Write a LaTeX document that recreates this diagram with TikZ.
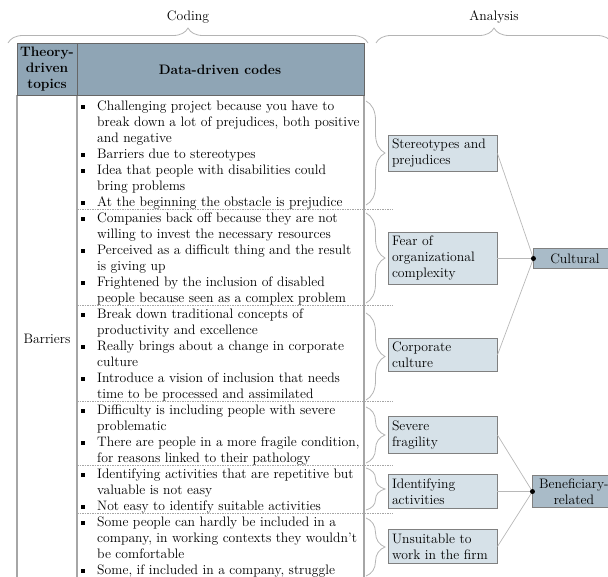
\documentclass[tikz,border=0pt]{standalone}
\usepackage{fontspec}
\usetikzlibrary{positioning}
\usetikzlibrary{decorations.pathreplacing}

\definecolor{headblue}{HTML}{8FA5B5}
\definecolor{catblue}{HTML}{A9BBC8}
\definecolor{codeblue}{HTML}{D6E1E8}
\definecolor{linegray}{HTML}{A6A6A6}
\definecolor{bracegray}{HTML}{B4B4B4}

\newcommand{\txtsize}{\fontsize{13.7pt}{16pt}\selectfont}
\newcommand{\bul}{\makebox[16pt][l]{\rule[1.5pt]{4pt}{4pt}}}
\newcommand{\cont}{\hspace*{16pt}}

\begin{document}
\begin{tikzpicture}[x=1pt, y=-1pt, font=\txtsize,
		codebox/.style={draw=black!50, fill=codeblue, line width=0.9pt, text width=101pt, minimum width=109pt, inner sep=4pt, align=left},
		catbox/.style={draw=black!50, fill=catblue, line width=0.9pt, minimum width=82pt, inner sep=3pt, align=center},
		codetext/.style={anchor=base west, inner sep=0pt, align=left},
		topbrace/.style={draw=bracegray, line width=0.8pt, decorate, decoration={brace, amplitude=15pt}},
		groupbrace/.style={draw=bracegray, line width=0.8pt, decorate, decoration={brace, amplitude=19pt}},
		groupline/.style={draw=linegray, dash pattern=on 1.5pt off 1pt, line width=0.6pt},
		boxlink/.style={draw=black!28, line width=0.7pt}]
			\useasboundingbox (0,0) rectangle (608,576);
			
			\node (coding) at (188,17) {Coding};
			\node (analysis) at (494,17) {Analysis};
			\draw[topbrace] (8,43) -- (368,43);
			\draw[topbrace] (376,43) -- (612,43);
			
			% table
			\draw[linegray, line width=1.2pt] (17,95) -- (17,580) (77,95) -- (77,580) (364,95) -- (364,580);
			\filldraw[fill=headblue, draw=black!60, line width=1pt] (17,43) rectangle (364,95);
			\draw[black!60, line width=1pt] (77,43) -- (77,95);
			\node[font=\txtsize\bfseries, align=center] (topics) at (47,69) {Theory-\\driven\\topics};
			\node[font=\txtsize\bfseries] (codes) at (220,70) {Data-driven codes};
			\node (barriers) at (47,339) {Barriers};
			
			\draw[groupline] (77,209) -- (393,209);
			\draw[groupline] (77,305) -- (393,305);
			\draw[groupline] (77,401) -- (393,401);
			\draw[groupline] (77,465) -- (393,465);
			\draw[groupline] (77,513) -- (393,513);
			
			% code groups, placed at the baseline of their last line
			\node[codetext] (g1) at (81,206) {\bul Challenging project because you have to\\
				\cont break down a lot of prejudices, both positive\\
				\cont and negative\\
				\bul Barriers due to stereotypes\\
				\bul Idea that people with disabilities could\\
				\cont bring problems\\
				\bul At the beginning the obstacle is prejudice};
			\node[codetext] (g2) at (81,302) {\bul Companies back off because they are not\\
				\cont willing to invest the necessary resources\\
				\bul Perceived as a difficult thing and the result\\
				\cont is giving up\\
				\bul Frightened by the inclusion of disabled\\
				\cont people because seen as a complex problem};
			\node[codetext] (g3) at (81,398) {\bul Break down traditional concepts of\\
				\cont productivity and excellence\\
				\bul Really brings about a change in corporate\\
				\cont culture\\
				\bul Introduce a vision of inclusion that needs\\
				\cont time to be processed and assimilated};
			\node[codetext] (g4) at (81,462) {\bul Difficulty is including people with severe\\
				\cont problematic\\
				\bul There are people in a more fragile condition,\\
				\cont for reasons linked to their pathology};
			\node[codetext] (g5) at (81,510) {\bul Identifying activities that are repetitive but\\
				\cont valuable is not easy\\
				\bul Not easy to identify suitable activities};
			\node[codetext] (g6) at (81,574) {\bul Some people can hardly be included in a\\
				\cont company, in working contexts they wouldn't\\
				\cont be comfortable\\
				\bul Some, if included in a company, struggle};
			
			% braces round the code groups
			\draw[groupbrace] (366,101) -- (366,205);
			\draw[groupbrace] (366,213) -- (366,303);
			\draw[groupbrace] (366,313) -- (366,400);
			\draw[groupbrace] (366,407) -- (366,463);
			\draw[groupbrace] (366,468) -- (366,510);
			\draw[groupbrace] (366,518) -- (366,576);
			
			\node[codebox] (stereo) at (442.5,153.5) {Stereotypes and\\prejudices};
			\node[codebox] (fear) at (442.5,258.5) {Fear of\\organizational\\complexity};
			\node[codebox] (corporate) at (442.5,355) {Corporate\\culture};
			\node[codebox] (fragile) at (442.5,435) {Severe\\fragility};
			\node[codebox] (activity) at (442.5,491.5) {Identifying\\activities};
			\node[codebox] (unsuit) at (442.5,546.5) {Unsuitable to\\work in the firm};
			
			\node[catbox, minimum height=20pt, right = 36pt of fear] (cultural) {Cultural};
			\node[catbox, right = 35pt of activity] (benef) {Beneficiary-\\related};
			
			\path[boxlink] (stereo.east) edge (cultural.west);
			\path[boxlink] (fear.east) edge (cultural.west);
			\path[boxlink] (corporate.east) edge (cultural.west);
			\path[boxlink] (fragile.east) edge (benef.west);
			\path[boxlink] (activity.east) edge (benef.west);
			\path[boxlink] (unsuit.east) edge (benef.west);
			\fill (cultural.west) circle (2.5pt);
			\fill (benef.west) circle (2.5pt);
\end{tikzpicture}
\end{document}
